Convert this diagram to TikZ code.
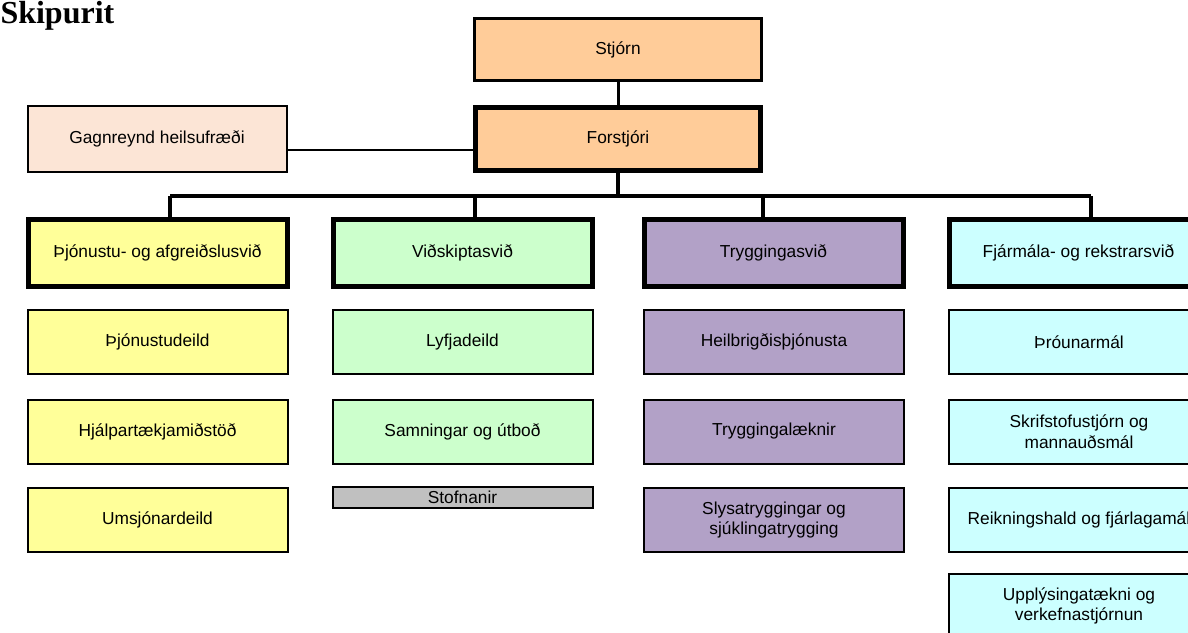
\documentclass[tikz,border=0pt]{standalone}
\usepackage{fontspec}
\setmainfont{Liberation Sans}
\newfontfamily\titlefont{Liberation Serif}
\usetikzlibrary{calc}

\definecolor{peach}{RGB}{255,204,153}
\definecolor{lightpeach}{RGB}{252,229,214}
\definecolor{paleyellow}{RGB}{255,255,153}
\definecolor{palegreen}{RGB}{204,255,204}
\definecolor{lilac}{RGB}{178,161,199}
\definecolor{palecyan}{RGB}{204,255,255}
\definecolor{palegray}{RGB}{192,192,192}

\tikzset{every picture/.style={line width=0.75pt}}
\tikzset{
  unitbox/.style={draw, line width=1.5pt, inner sep=0pt, align=center,
    font=\fontsize{13}{15.5}\selectfont, minimum width=195pt, minimum height=48pt},
  divbox/.style={unitbox, line width=3.75pt, minimum height=50.25pt, minimum width=194.25pt},
  link/.style={line width=2.5pt},
  thinlink/.style={line width=1.75pt}
}

\begin{document}
\begin{tikzpicture}[x=0.75pt,y=0.75pt,yscale=-1,xscale=1]
\useasboundingbox (0,0) rectangle (1188,632);

% Title
\node (title) [anchor=base west, inner sep=0pt] at (0,23) {\titlefont\bfseries\fontsize{24}{28}\selectfont Skipurit};

%Shape: Top boxes
\node (stjorn) [unitbox, fill=peach, line width=2.25pt, minimum width=215.25pt, minimum height=46.5pt] at (618,49.5) {Stjórn};
\node (forstjori) [divbox, fill=peach, minimum width=213.75pt, minimum height=47.25pt] at (618,139) {Forstjóri};
\node (gagn) [unitbox, fill=lightpeach, minimum width=194.25pt, minimum height=49.5pt] at (157,139) {Gagnreynd heilsufræði};

%Shape: Divisions
\node (svid1) [divbox, fill=paleyellow] at (157.5,253) {Þjónustu- og afgreiðslusvið};
\node (svid2) [divbox, fill=palegreen] at (462.5,253) {Viðskiptasvið};
\node (svid3) [divbox, fill=lilac] at (773.5,253) {Tryggingasvið};
\node (svid4) [divbox, fill=palecyan] at (1078.5,253) {Fjármála- og rekstrarsvið};

%Shape: Units under Þjónustu- og afgreiðslusvið
\node (thj1) [unitbox, fill=paleyellow] at (157.5,342) {Þjónustudeild};
\node (thj2) [unitbox, fill=paleyellow] at (157.5,431.5) {Hjálpartækjamiðstöð};
\node (thj3) [unitbox, fill=paleyellow] at (157.5,520) {Umsjónardeild};

%Shape: Units under Viðskiptasvið
\node (vid1) [unitbox, fill=palegreen] at (462.5,342) {Lyfjadeild};
\node (vid2) [unitbox, fill=palegreen] at (462.5,431.5) {Samningar og útboð};
\node (vid3) [unitbox, fill=palegray, minimum height=15.75pt] at (462.5,497.5) {Stofnanir};

%Shape: Units under Tryggingasvið
\node (tr1) [unitbox, fill=lilac] at (774,342) {Heilbrigðisþjónusta};
\node (tr2) [unitbox, fill=lilac] at (774,431.5) {Tryggingalæknir};
\node (tr3) [unitbox, fill=lilac] at (774,520) {Slysatryggingar og\\sjúklingatrygging};

%Shape: Units under Fjármála- og rekstrarsvið
\node (fj1) [unitbox, fill=palecyan] at (1079,342) {Þróunarmál};
\node (fj2) [unitbox, fill=palecyan] at (1079,431.5) {Skrifstofustjórn og\\mannauðsmál};
\node (fj3) [unitbox, fill=palecyan] at (1079,520) {Reikningshald og fjárlagamál};
\node (fj4) [unitbox, fill=palecyan] at (1079,606) {Upplýsingatækni og\\verkefnastjórnun};

%Straight Lines
\coordinate (b1) at (170,196);
\coordinate (b2) at (475,196);
\coordinate (b3) at (763,196);
\coordinate (b4) at (1091,196);
\coordinate (g1) at (0,150);
\draw [link, line width=2.25pt] (stjorn) -- (forstjori);
\draw [link] (forstjori.south) -- (forstjori.south |- b1);
\draw [link] (b1) -- (b4);
\foreach \b/\s in {b1/svid1, b2/svid2, b3/svid3, b4/svid4}
  \draw [link] (\b) -- (\b |- \s.north);
\draw [thinlink] (gagn.east |- g1) -- (forstjori.west |- g1);
\end{tikzpicture}
\end{document}
